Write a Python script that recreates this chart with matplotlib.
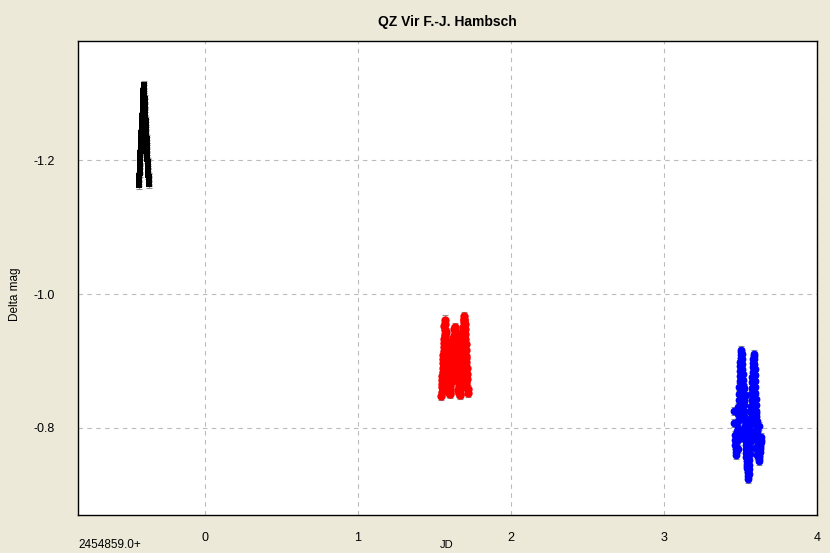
import matplotlib
matplotlib.use("Agg")
import matplotlib.pyplot as plt

plt.rcParams['font.family'] = ['Liberation Sans', 'DejaVu Sans']

# ---- data (JD - 2454859.0, delta mag) ----
black_jd = [-0.432, -0.431, -0.429, -0.428, -0.426, -0.425, -0.423, -0.422, -0.420, -0.419,
            -0.418, -0.416, -0.415, -0.413, -0.412, -0.410, -0.409, -0.408, -0.406, -0.405,
            -0.403, -0.402, -0.401, -0.399, -0.398, -0.396, -0.395, -0.393, -0.392, -0.390,
            -0.389, -0.387, -0.386, -0.384, -0.383, -0.381, -0.380, -0.378, -0.377, -0.375,
            -0.374, -0.372, -0.371, -0.369, -0.368, -0.366,
            -0.431, -0.429, -0.428, -0.426, -0.425, -0.423, -0.422, -0.420, -0.419, -0.417,
            -0.416, -0.414, -0.413, -0.411, -0.410, -0.409, -0.407, -0.406, -0.404, -0.403,
            -0.402, -0.400, -0.400, -0.398, -0.397, -0.395, -0.394, -0.392, -0.391, -0.389,
            -0.388, -0.386, -0.385, -0.383, -0.382, -0.380, -0.379, -0.377, -0.376, -0.374,
            -0.373, -0.371, -0.370, -0.368, -0.367, -0.365]
black_mag = [-1.163, -1.170, -1.176, -1.185, -1.189, -1.198, -1.202, -1.211, -1.215, -1.224,
             -1.228, -1.238, -1.240, -1.250, -1.254, -1.263, -1.266, -1.277, -1.280, -1.290,
             -1.293, -1.303, -1.312, -1.306, -1.298, -1.289, -1.292, -1.281, -1.274, -1.270,
             -1.262, -1.256, -1.246, -1.241, -1.233, -1.228, -1.219, -1.213, -1.206, -1.197,
             -1.193, -1.185, -1.181, -1.175, -1.171, -1.168,
             -1.167, -1.174, -1.181, -1.187, -1.194, -1.200, -1.207, -1.213, -1.220, -1.226,
             -1.233, -1.236, -1.245, -1.252, -1.259, -1.264, -1.272, -1.278, -1.285, -1.292,
             -1.299, -1.307, -1.309, -1.302, -1.294, -1.286, -1.285, -1.278, -1.272, -1.266,
             -1.259, -1.251, -1.244, -1.237, -1.231, -1.224, -1.216, -1.210, -1.202, -1.195,
             -1.189, -1.183, -1.178, -1.173, -1.169, -1.165]

red_jd = [1.545, 1.548, 1.550, 1.553, 1.556, 1.558, 1.561, 1.564, 1.567, 1.569,
          1.572, 1.575, 1.578, 1.581, 1.584, 1.587, 1.590, 1.593, 1.596, 1.599,
          1.603, 1.607, 1.611, 1.615, 1.619, 1.623, 1.627, 1.631, 1.635, 1.638,
          1.641, 1.644, 1.647, 1.650, 1.653, 1.656, 1.659, 1.662, 1.665, 1.668,
          1.671, 1.674, 1.677, 1.680, 1.683, 1.686, 1.689, 1.692, 1.695, 1.698,
          1.701, 1.704, 1.707, 1.710, 1.713, 1.716,
          1.547, 1.552, 1.549, 1.556, 1.554, 1.560, 1.559, 1.566, 1.563, 1.571,
          1.570, 1.577, 1.574, 1.583, 1.580, 1.589, 1.586, 1.595, 1.592, 1.601,
          1.600, 1.609, 1.606, 1.617, 1.614, 1.625, 1.622, 1.633, 1.630, 1.640,
          1.637, 1.646, 1.643, 1.652, 1.649, 1.658, 1.655, 1.664, 1.661, 1.670,
          1.667, 1.676, 1.673, 1.682, 1.679, 1.688, 1.685, 1.694, 1.691, 1.700,
          1.697, 1.706, 1.703, 1.712, 1.709, 1.718,
          1.560, 1.575, 1.590, 1.605, 1.620, 1.635, 1.650, 1.665, 1.680, 1.695,
          1.565, 1.582, 1.597, 1.612, 1.628, 1.643, 1.658, 1.672, 1.688, 1.703,
          1.570, 1.588, 1.603, 1.618, 1.633, 1.648, 1.663, 1.678, 1.693, 1.708]
red_mag = [-0.848, -0.861, -0.872, -0.884, -0.897, -0.909, -0.921, -0.933, -0.946, -0.962,
           -0.944, -0.930, -0.918, -0.905, -0.893, -0.882, -0.870, -0.862, -0.855, -0.851,
           -0.858, -0.869, -0.880, -0.893, -0.905, -0.918, -0.930, -0.940, -0.951, -0.944,
           -0.931, -0.920, -0.906, -0.895, -0.882, -0.872, -0.861, -0.853, -0.849, -0.856,
           -0.866, -0.878, -0.891, -0.904, -0.917, -0.930, -0.944, -0.958, -0.967, -0.955,
           -0.941, -0.925, -0.908, -0.890, -0.873, -0.858,
           -0.854, -0.866, -0.878, -0.890, -0.903, -0.915, -0.927, -0.940, -0.952, -0.955,
           -0.937, -0.924, -0.911, -0.899, -0.888, -0.876, -0.866, -0.858, -0.852, -0.854,
           -0.863, -0.875, -0.886, -0.899, -0.911, -0.924, -0.935, -0.946, -0.948, -0.938,
           -0.925, -0.913, -0.900, -0.889, -0.877, -0.866, -0.857, -0.851, -0.852, -0.861,
           -0.872, -0.884, -0.897, -0.910, -0.923, -0.937, -0.951, -0.963, -0.961, -0.948,
           -0.933, -0.917, -0.899, -0.881, -0.865, -0.852,
           -0.872, -0.902, -0.886, -0.913, -0.871, -0.925, -0.890, -0.905, -0.878, -0.932,
           -0.894, -0.868, -0.921, -0.880, -0.938, -0.874, -0.918, -0.886, -0.899, -0.870,
           -0.915, -0.884, -0.870, -0.930, -0.893, -0.911, -0.876, -0.928, -0.863, -0.905]

blue_jd = [3.458, 3.462, 3.466, 3.470, 3.474, 3.478, 3.482, 3.486, 3.490, 3.494,
           3.497, 3.500, 3.503, 3.506, 3.509, 3.512, 3.515, 3.518, 3.521, 3.524,
           3.527, 3.530, 3.533, 3.536, 3.539, 3.542, 3.545, 3.548, 3.551, 3.554,
           3.557, 3.560, 3.563, 3.566, 3.569, 3.572, 3.575, 3.578, 3.581, 3.584,
           3.587, 3.590, 3.593, 3.596, 3.599, 3.602, 3.605, 3.608, 3.611, 3.614,
           3.617, 3.620, 3.623, 3.626, 3.629, 3.632,
           3.460, 3.465, 3.468, 3.473, 3.476, 3.481, 3.484, 3.489, 3.492, 3.496,
           3.499, 3.502, 3.505, 3.508, 3.511, 3.514, 3.517, 3.520, 3.523, 3.526,
           3.529, 3.532, 3.535, 3.538, 3.541, 3.544, 3.547, 3.550, 3.553, 3.556,
           3.559, 3.562, 3.565, 3.568, 3.571, 3.574, 3.577, 3.580, 3.583, 3.586,
           3.589, 3.592, 3.595, 3.598, 3.601, 3.604, 3.607, 3.610, 3.613, 3.616,
           3.619, 3.622, 3.625, 3.628, 3.631, 3.634,
           3.480, 3.495, 3.510, 3.525, 3.540, 3.555, 3.570, 3.585, 3.600, 3.615,
           3.485, 3.500, 3.515, 3.530, 3.545, 3.560, 3.575, 3.590, 3.605, 3.620,
           3.490, 3.505, 3.520, 3.535, 3.550, 3.565, 3.580, 3.595, 3.610, 3.625]
blue_mag = [-0.825, -0.790, -0.775, -0.760, -0.770, -0.790, -0.810, -0.832, -0.851, -0.870,
            -0.885, -0.898, -0.909, -0.916, -0.903, -0.888, -0.872, -0.857, -0.842, -0.826,
            -0.811, -0.796, -0.781, -0.768, -0.756, -0.746, -0.740, -0.732, -0.724, -0.738,
            -0.752, -0.770, -0.788, -0.806, -0.824, -0.842, -0.860, -0.876, -0.891, -0.903,
            -0.910, -0.896, -0.879, -0.861, -0.843, -0.826, -0.810, -0.795, -0.781, -0.769,
            -0.758, -0.751, -0.760, -0.768, -0.775, -0.782,
            -0.808, -0.782, -0.768, -0.764, -0.780, -0.800, -0.821, -0.842, -0.861, -0.878,
            -0.892, -0.904, -0.913, -0.910, -0.895, -0.880, -0.864, -0.850, -0.834, -0.818,
            -0.803, -0.789, -0.774, -0.762, -0.751, -0.743, -0.736, -0.728, -0.731, -0.745,
            -0.761, -0.779, -0.797, -0.815, -0.833, -0.851, -0.868, -0.884, -0.897, -0.907,
            -0.903, -0.888, -0.870, -0.852, -0.835, -0.818, -0.802, -0.788, -0.775, -0.763,
            -0.754, -0.756, -0.764, -0.772, -0.779, -0.786,
            -0.795, -0.842, -0.818, -0.860, -0.776, -0.808, -0.851, -0.790, -0.822, -0.770,
            -0.768, -0.815, -0.795, -0.848, -0.773, -0.826, -0.786, -0.834, -0.760, -0.803,
            -0.830, -0.785, -0.840, -0.804, -0.760, -0.790, -0.812, -0.770, -0.795, -0.780]

err = 0.006

xticks = [0, 1, 2, 3, 4]
yticks = [-1.2, -1.0, -0.8]
ytick_labels = ['-1.2', '-1.0', '-0.8']

bg = '#ECE9D8'
fig = plt.figure(figsize=(8.30, 5.53), dpi=100, facecolor=bg)
ax = fig.add_axes([78/830, 1-515/553, (817-78)/830, (515-41)/553])
ax.set_facecolor('white')

for xs, ys, c, m, ms in [(black_jd, black_mag, 'black', 's', 4.6),
                         (red_jd, red_mag, '#FF0000', 'o', 6.0),
                         (blue_jd, blue_mag, '#0000FF', 'o', 5.6)]:
    ax.errorbar(xs, ys, yerr=err, fmt='none', ecolor='#909090', elinewidth=0.8,
                capsize=2, capthick=0.8, zorder=2)
    ax.plot(xs, ys, linestyle='none', marker=m, color=c, markersize=ms,
            markeredgewidth=0, zorder=3)

ax.set_xlim(-0.83, 4.0)
ax.set_ylim(-0.67, -1.378)
ax.set_xticks(xticks)
ax.set_xticklabels([str(t) for t in xticks], fontsize=9)
ax.set_yticks(yticks)
ax.set_yticklabels(ytick_labels, fontsize=9)
ax.tick_params(length=0, pad=12)
ax.tick_params(axis='y', pad=17)
ax.grid(True, color='#BBBBBB', linestyle=(0, (4, 4)), linewidth=0.8)
ax.set_axisbelow(True)
for s in ax.spines.values():
    s.set_color('black')
    s.set_linewidth(1.0)

fig.text(447/830, 1-22/553, 'QZ Vir F.-J. Hambsch', ha='center', va='center',
         fontsize=10, fontweight='bold')
fig.text(15/830, 1-294/553, 'Delta mag', ha='center', va='center', rotation=90, fontsize=8.5)
fig.text(447/830, 1-545/553, 'JD', ha='center', va='center', fontsize=8)
fig.text(78/830, 1-545/553, '2454859.0+', ha='left', va='center', fontsize=8.5)

fig.savefig('out.png', dpi=100, facecolor=bg)
